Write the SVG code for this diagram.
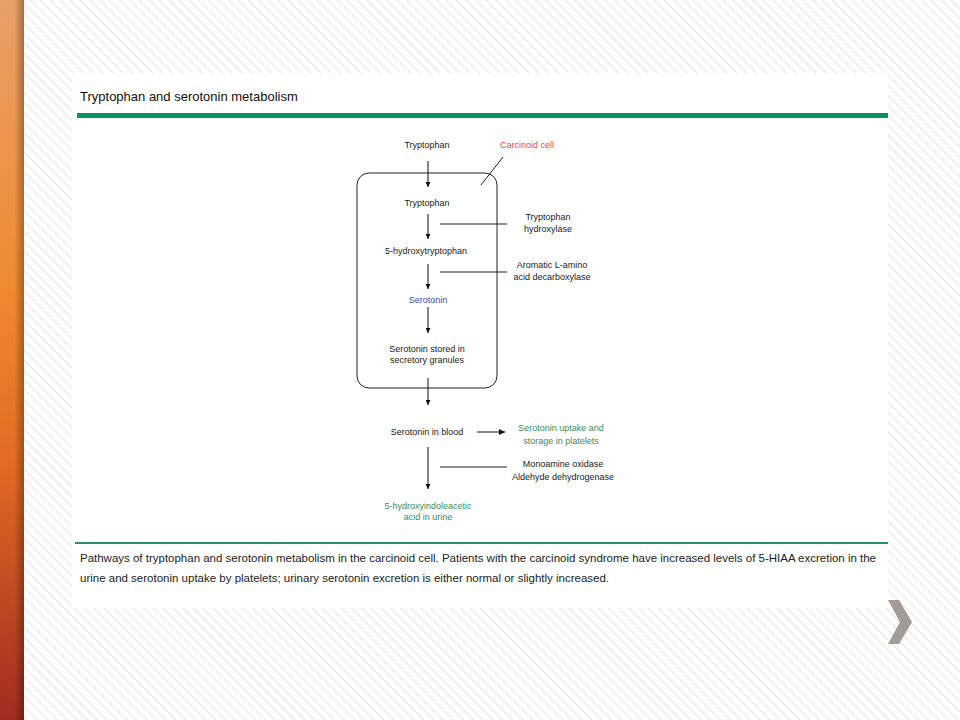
<svg xmlns="http://www.w3.org/2000/svg" width="960" height="720" viewBox="0 0 960 720">
<defs>
<pattern id="stripes" patternUnits="userSpaceOnUse" width="7" height="7" patternTransform="rotate(-45)">
<rect width="7" height="7" fill="#ffffff"/>
<line x1="0" y1="0" x2="0" y2="7" stroke="#e4e4e4" stroke-width="2"/>
</pattern>
<linearGradient id="barV" x1="0" y1="0" x2="0" y2="1">
<stop offset="0" stop-color="#e8a068"/>
<stop offset="0.4" stop-color="#f08a30"/>
<stop offset="0.65" stop-color="#e06a22"/>
<stop offset="1" stop-color="#a02c22"/>
</linearGradient>
<linearGradient id="barH" x1="0" y1="0" x2="1" y2="0">
<stop offset="0" stop-color="#000" stop-opacity="0"/>
<stop offset="0.6" stop-color="#000" stop-opacity="0"/>
<stop offset="1" stop-color="#000" stop-opacity="0.3"/>
</linearGradient>
<marker id="ah" viewBox="0 0 10 10" refX="10" refY="5" markerWidth="5" markerHeight="5" orient="auto" markerUnits="userSpaceOnUse">
<path d="M0,0 L10,5 L0,10 Z" fill="#111"/>
</marker>
<marker id="ah2" viewBox="0 0 10 10" refX="10" refY="5" markerWidth="8" markerHeight="6" orient="auto" markerUnits="userSpaceOnUse">
<path d="M0,0 L10,5 L0,10 Z" fill="#111"/>
</marker>
</defs>
<style>
.t{font-family:"Liberation Sans",Arial,sans-serif;font-size:9px;fill:#222;text-anchor:middle}
.red{fill:#e8404a}
.blue{fill:#3050a8}
.green{fill:#3a8a60}
.ln{stroke:#222;stroke-width:1;fill:none}
.arr{stroke:#111;stroke-width:1;fill:none;marker-end:url(#ah)}
.cap{font-family:"Liberation Sans",Arial,sans-serif;font-size:11.5px;fill:#222}
</style>
<rect width="960" height="720" fill="url(#stripes)"/>
<rect x="0" y="0" width="24" height="720" fill="url(#barV)"/>
<rect x="0" y="0" width="24" height="720" fill="url(#barH)"/>
<rect x="72" y="73" width="816" height="535" fill="#ffffff"/>
<text x="80" y="101" font-family="Liberation Sans,Arial,sans-serif" font-size="13" fill="#111">Tryptophan and serotonin metabolism</text>
<rect x="77" y="113" width="811" height="5" fill="#0a9264"/>
<rect x="75" y="542" width="813" height="2" fill="#2a9070"/>
<text class="cap" x="80" y="562" textLength="796" lengthAdjust="spacingAndGlyphs">Pathways of tryptophan and serotonin metabolism in the carcinoid cell. Patients with the carcinoid syndrome have increased levels of 5-HIAA excretion in the</text>
<text class="cap" x="80" y="582" textLength="529" lengthAdjust="spacingAndGlyphs">urine and serotonin uptake by platelets; urinary serotonin excretion is either normal or slightly increased.</text>
<polygon points="888,600 899,600 912,622 899,644 888,644 900,622" fill="#a39c96"/>
<g id="cell"><rect x="357" y="173" width="140" height="215" rx="12" ry="12" class="ln" stroke-width="1.2"/></g>
<g id="connectors">
<line class="arr" x1="428" y1="161" x2="428" y2="187"/>
<line class="arr" x1="428" y1="214" x2="428" y2="239"/>
<line class="arr" x1="428" y1="264" x2="428" y2="289"/>
<line class="arr" x1="428" y1="307" x2="428" y2="333"/>
<line class="arr" x1="428" y1="378" x2="428" y2="405"/>
<line class="arr" x1="428" y1="447" x2="428" y2="489"/>
<line x1="477" y1="432" x2="505" y2="432" stroke="#111" stroke-width="1" marker-end="url(#ah2)"/>
<line class="ln" x1="440" y1="224" x2="507" y2="224"/>
<line class="ln" x1="440" y1="272" x2="507" y2="272"/>
<line class="ln" x1="440" y1="467" x2="507" y2="467"/>
<line class="ln" x1="481" y1="185" x2="503" y2="157"/>
</g>
<g id="n-trp-out"><text class="t" x="427" y="148">Tryptophan</text></g>
<g id="n-carcinoid"><text class="t red" x="527" y="148">Carcinoid cell</text></g>
<g id="n-trp-in"><text class="t" x="427" y="206">Tryptophan</text></g>
<g id="n-trp-hyd"><text class="t" x="548" y="220">Tryptophan</text><text class="t" x="548" y="232">hydroxylase</text></g>
<g id="n-5htp"><text class="t" x="426" y="254">5-hydroxytryptophan</text></g>
<g id="n-aadc"><text class="t" x="552" y="268">Aromatic L-amino</text><text class="t" x="552" y="280">acid decarboxylase</text></g>
<g id="n-serotonin"><text class="t blue" x="428" y="303">Serotonin</text></g>
<g id="n-stored"><text class="t" x="427" y="352">Serotonin stored in</text><text class="t" x="427" y="363">secretory granules</text></g>
<g id="n-blood"><text class="t" x="427" y="435">Serotonin in blood</text></g>
<g id="n-platelets"><text class="t green" x="561" y="431">Serotonin uptake and</text><text class="t green" x="561" y="444">storage in platelets</text></g>
<g id="n-mao"><text class="t" x="563" y="467">Monoamine oxidase</text><text class="t" x="563" y="480">Aldehyde dehydrogenase</text></g>
<g id="n-5hiaa"><text class="t green" x="428" y="509">5-hydroxyindoleacetic</text><text class="t green" x="428" y="520">acid in urine</text></g>
</svg>
